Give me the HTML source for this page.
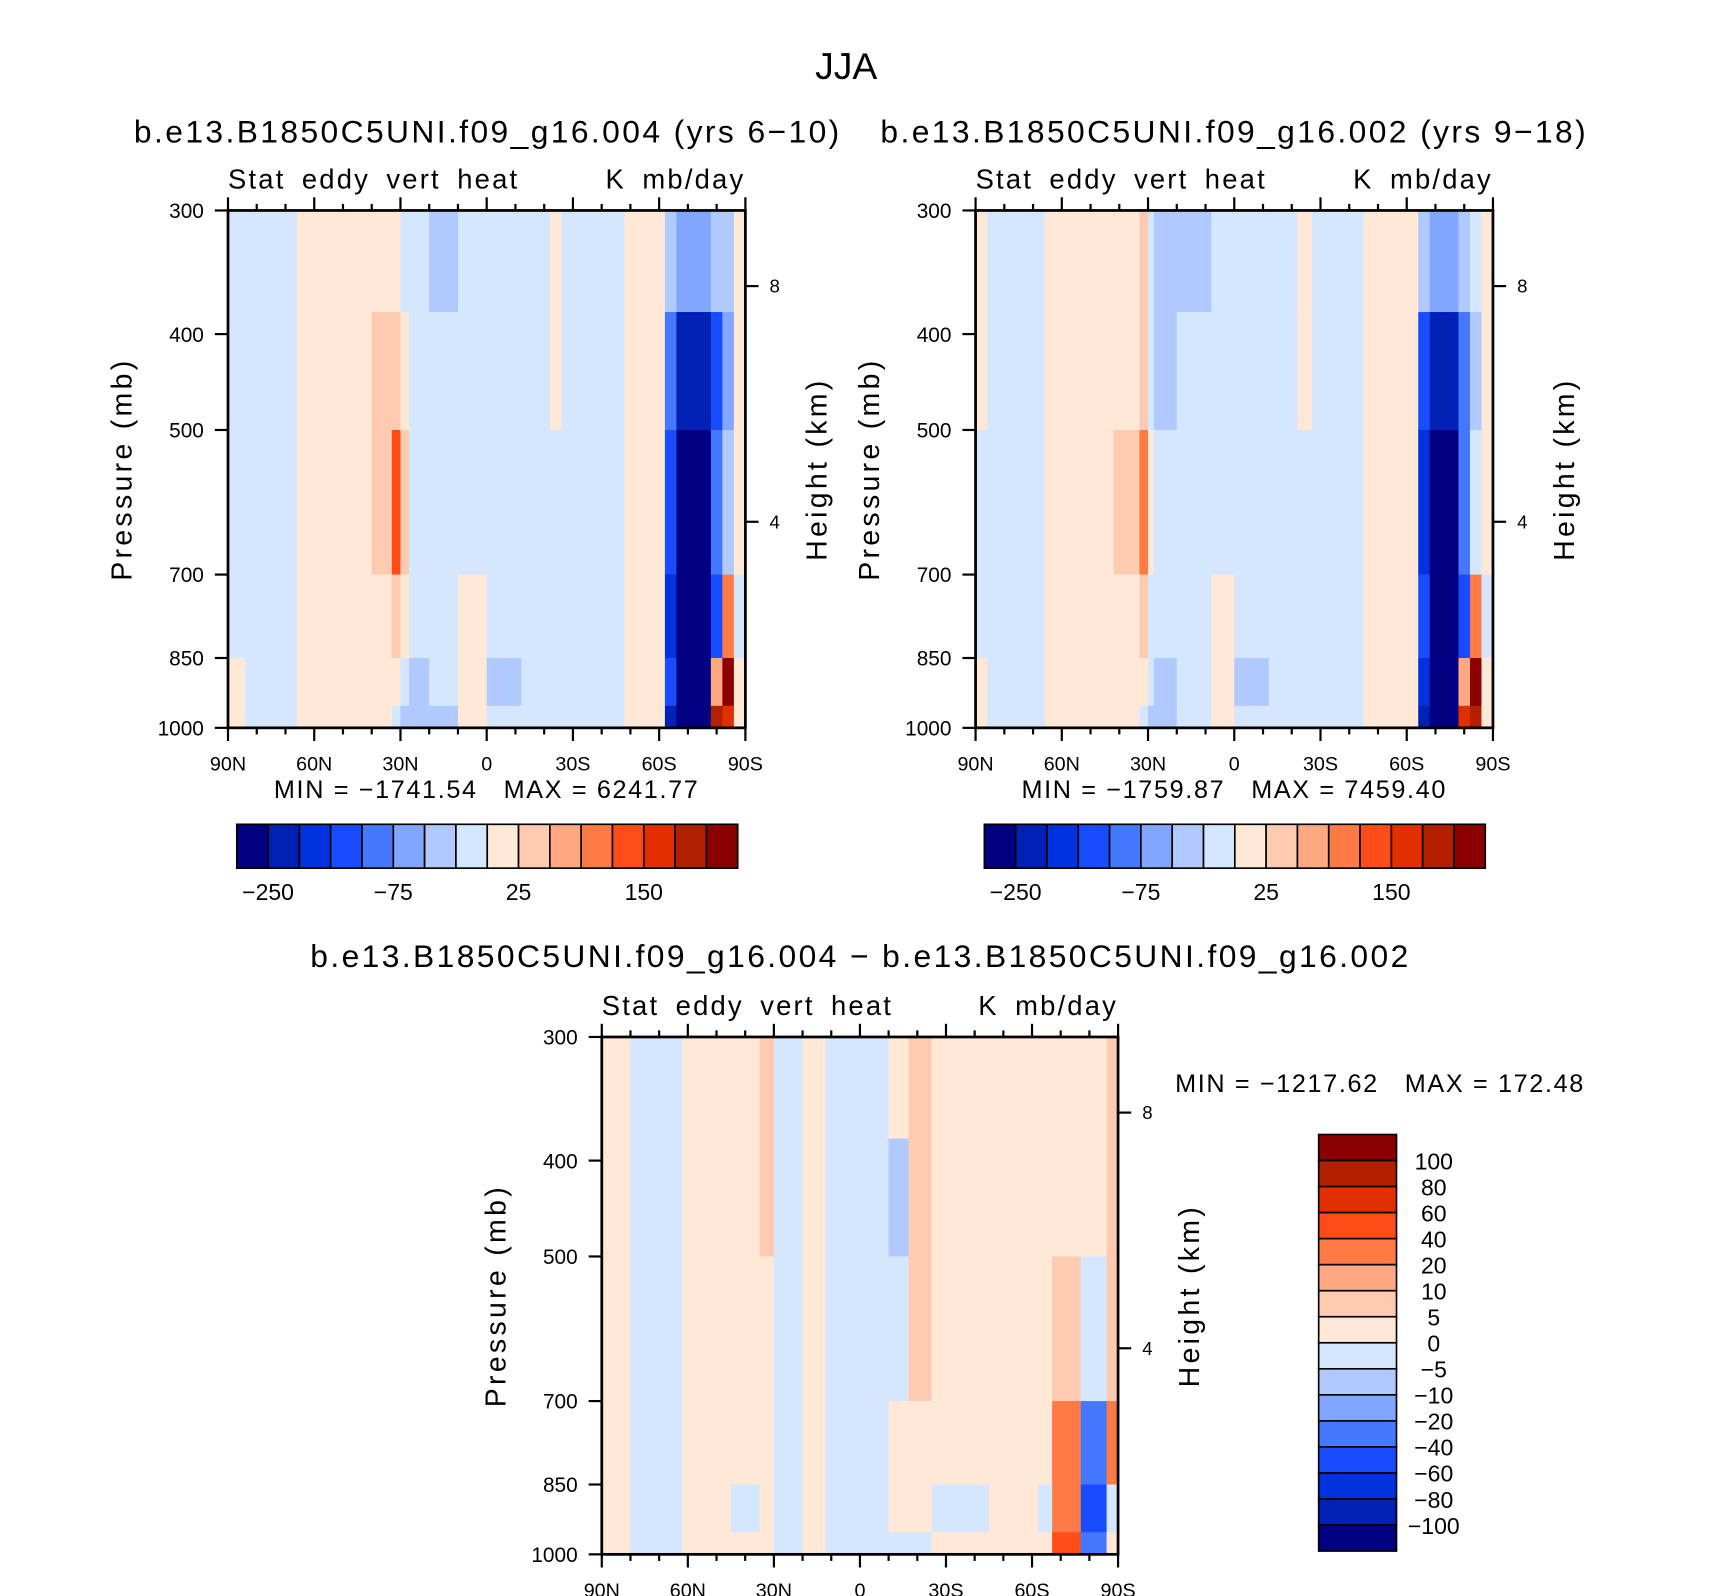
<!DOCTYPE html>
<html><head><meta charset="utf-8">
<style>
html,body{margin:0;padding:0;background:#fff;}
svg{display:block;font-family:"Liberation Sans",sans-serif;}
</style></head>
<body>
<svg id="fig" xmlns="http://www.w3.org/2000/svg" width="1710" height="1596" viewBox="0 0 1560 1456">
<rect x="0" y="0" width="1560" height="1456" fill="#fff"/>
<text x="772" y="72" font-size="34" text-anchor="middle">JJA</text>
<g id="root"></g>
</svg>
<script>
// ---------- data ----------
const colors = ["#000080","#0022b4","#0033dd","#1a4cff","#4577ff","#80a6ff","#b0c9ff","#d5e6ff","#ffe8d6","#ffcbb0","#ffa882","#ff7a45","#ff4d18","#e03000","#b22000","#8b0000"];
const levelsTop = [-250,-200,-150,-100,-75,-50,-25,0,25,50,75,100,150,200,250];
const levelsDiff = [-100,-80,-60,-40,-20,-10,-5,0,5,10,20,40,60,80,100];
const topTickLabels = ["-250","-75","25","150"];
const diffTickLabels = ["100","80","60","40","20","10","5","0","-5","-10","-20","-40","-60","-80","-100"];
const pressureEdges = [300,380,500,700,850,950,1000];
const pressureTicks = [300,400,500,700,850,1000];
const heightTicks = [8,4];
const latTicks = [90,60,30,0,-30,-60,-90];
const latTickLabels = ["90N","60N","30N","0","30S","60S","90S"];

// panel 1 bands: lat edges (north->south) and values per pressure layer (top->bottom)
const p1Edges = [90,84,66,40,33,30,27,20,10,0,-12,-22,-26,-48,-62,-66,-78,-82,-86,-90];
const p1Vals = [
 [-10,-10,-10,-10,10,10],[-10,-10,-10,-10,-10,-10],[10,10,10,10,10,10],[10,40,40,10,10,10],
 [10,40,120,40,10,-10],[-10,10,40,10,-10,-40],[-10,-10,-10,-10,-40,-40],[-40,-10,-10,-10,-10,-40],
 [-10,-10,-10,10,10,10],[-10,-10,-10,-10,-40,-10],[-10,-10,-10,-10,-10,-10],[10,10,-10,-10,-10,-10],
 [-10,-10,-10,-10,-10,-10],[10,10,10,10,10,10],[-40,-90,-120,-170,-120,-220],[-60,-220,-260,-260,-300,-300],
 [-40,-120,-90,-120,60,220],[-40,-60,-40,90,300,170],[10,10,10,-10,10,10]
];
const p2Edges = [90,86,66,42,33,30,28,20,8,0,-12,-22,-27,-45,-64,-68,-78,-82,-86,-90];
const p2Vals = [
 [10,10,-10,-10,10,10],[-10,-10,-10,-10,-10,-10],[10,10,10,10,10,10],[10,10,40,10,10,10],
 [40,40,90,40,10,-10],[-10,-10,10,-10,-10,-40],[-40,-40,-10,-10,-40,-40],[-40,-10,-10,-10,-10,-10],
 [-10,-10,-10,10,10,10],[-10,-10,-10,-10,-40,-10],[-10,-10,-10,-10,-10,-10],[10,10,-10,-10,-10,-10],
 [-10,-10,-10,-10,-10,-10],[10,10,10,10,10,10],[-40,-120,-170,-120,-170,-220],[-60,-220,-260,-260,-300,-300],
 [-40,-90,-90,-120,60,170],[-10,-40,-10,90,300,220],[10,10,10,-10,10,10]
];
const p3Edges = [90,80,62,45,35,30,20,12,0,-10,-17,-25,-45,-62,-67,-77,-86,-90];
const p3Vals = [
 [3,3,3,3,3,3],[-3,-3,-3,-3,-3,-3],[3,3,3,3,3,3],[3,3,3,3,-3,3],[7,7,3,3,3,3],
 [-3,-3,-3,-3,-3,-3],[3,3,3,3,3,3],[-3,-3,-3,-3,-3,-3],[-3,-3,-3,-3,-3,-3],
 [3,-7,-3,3,3,-3],[7,7,7,3,3,-3],[3,3,3,3,-3,3],[3,3,3,3,3,3],[3,3,3,3,-3,3],
 [3,3,7,30,30,50],[3,3,-3,-30,-60,-40],[7,7,7,30,-3,3]
];

// ---------- helpers ----------
const NS = "http://www.w3.org/2000/svg";
const root = document.getElementById("root");
function mk(tag, attrs, parent, text){
  const e = document.createElementNS(NS, tag);
  for (const k in attrs) e.setAttribute(k, attrs[k]);
  if (text !== undefined) e.textContent = text;
  (parent||root).appendChild(e);
  return e;
}
function colorFor(v, levels){
  let i = 0;
  while (i < levels.length && v >= levels[i]) i++;
  return colors[i];
}
function minus(s){ return s.replace(/-/g, "\u2212"); }

function drawPanel(px, py, W, H, edges, vals, levels, name){
  const g = mk("g", {});
  
  
  const xOf = lat => px + (90 - lat) / 180 * W;
  const yOf = p => py + H - Math.log(1000 / p) / Math.log(1000 / 300) * H;
  const yOfZ = z => py + 499 - 53.75 * z;
  for (let b = 0; b < edges.length - 1; b++){
    for (let l = 0; l < pressureEdges.length - 1; l++){
      const x0 = xOf(edges[b]), x1 = xOf(edges[b+1]);
      const y0 = yOf(pressureEdges[l]), y1 = yOf(pressureEdges[l+1]);
      const r = mk("rect", {x:x0, y:y0, width:x1-x0+0.6, height:y1-y0+0.6, fill:colorFor(vals[b][l], levels)}, g);
      
      
    }
  }
  const fr = mk("rect", {x:px, y:py, width:W, height:H, fill:"none", stroke:"#000", "stroke-width":2.5}, g);
  
  
  for (let lat = 90; lat >= -90; lat -= 10){
    const x = xOf(lat), major = lat % 30 === 0;
    const len = major ? 12 : 6;
    mk("line", {x1:x, y1:py+H, x2:x, y2:py+H+len, stroke:"#000", "stroke-width":2}, g);
    mk("line", {x1:x, y1:py, x2:x, y2:py-len, stroke:"#000", "stroke-width":2}, g);
  }
  latTicks.forEach((lat, i) => {
    const t = mk("text", {x:xOf(lat), y:py+H+39, "font-size":18, "text-anchor":"middle"}, g, latTickLabels[i]);
    
    
  });
  pressureTicks.forEach(p => {
    const y = yOf(p);
    mk("line", {x1:px-12, y1:y, x2:px, y2:y, stroke:"#000", "stroke-width":2}, g);
    const t = mk("text", {x:px-22, y:y+7, "font-size":19, "text-anchor":"end"}, g, String(p));
    
    
  });
  heightTicks.forEach(z => {
    const y = yOfZ(z);
    mk("line", {x1:px+W, y1:y, x2:px+W+12, y2:y, stroke:"#000", "stroke-width":2}, g);
    const t = mk("text", {x:px+W+22, y:y+6, "font-size":17}, g, String(z));
    
    
  });
  const yl = mk("text", {x:0, y:0, "font-size":26, "letter-spacing":3, "text-anchor":"middle", transform:`translate(${px-88},${py+H/2}) rotate(-90)`}, g, "Pressure (mb)");
  
  
  const hl = mk("text", {x:0, y:0, "font-size":26, "letter-spacing":3, "text-anchor":"middle", transform:`translate(${px+W+74},${py+H/2}) rotate(-90)`}, g, "Height (km)");
  
  
  const l1 = mk("text", {x:px, y:py-20, "font-size":25, "letter-spacing":2, "word-spacing":6}, g, "Stat eddy vert heat");
  
  
  const l2 = mk("text", {x:px+W, y:py-20, "font-size":25, "letter-spacing":2, "word-spacing":6, "text-anchor":"end"}, g, "K mb/day");
  
  
}

function hColorbar(x, y, w, h, name){
  const g = mk("g", {});
  
  
  const bw = w / colors.length;
  colors.forEach((c, i) => {
    const r = mk("rect", {x:x+i*bw, y:y, width:bw, height:h, fill:c, stroke:"#000", "stroke-width":1.5}, g);
    
    
  });
  topTickLabels.forEach((s, i) => {
    const t = mk("text", {x:x+(1+4*i)*bw, y:y+h+29, "font-size":21, "text-anchor":"middle"}, g, minus(s));
    
    
  });
}
function vColorbar(x, y, w, h, name){
  const g = mk("g", {});
  
  
  const bh = h / colors.length;
  colors.slice().reverse().forEach((c, i) => {
    const r = mk("rect", {x:x, y:y+i*bh, width:w, height:bh, fill:c, stroke:"#000", "stroke-width":1.5}, g);
    
    
  });
  diffTickLabels.forEach((s, i) => {
    const t = mk("text", {x:x+w+34, y:y+(i+1)*bh+8, "font-size":21, "text-anchor":"middle"}, g, minus(s));
    
    
  });
}
function label(x, y, s, size, anchor, name, ls){
  const t = mk("text", {x:x, y:y, "font-size":size, "text-anchor":anchor, "letter-spacing":ls, "xml:space":"preserve", style:"white-space:pre"}, root, minus(s));
  
  
}

// ---------- panels ----------
label(445, 130, "b.e13.B1850C5UNI.f09_g16.004 (yrs 6-10)", 29, "middle", "panel1-title", 2.2);
label(1126, 130, "b.e13.B1850C5UNI.f09_g16.002 (yrs 9-18)", 29, "middle", "panel2-title", 2.2);
drawPanel(208, 192, 472, 472, p1Edges, p1Vals, levelsTop, "panel1-plot");
drawPanel(890, 192, 472, 472, p2Edges, p2Vals, levelsTop, "panel2-plot");
label(444, 728, "MIN = -1741.54   MAX = 6241.77", 23, "middle", "panel1-minmax", 1.5);
label(1126, 728, "MIN = -1759.87   MAX = 7459.40", 23, "middle", "panel2-minmax", 1.5);
hColorbar(216, 752, 457, 40, "panel1-colorbar");
hColorbar(898, 752, 457, 40, "panel2-colorbar");

label(785, 882, "b.e13.B1850C5UNI.f09_g16.004 - b.e13.B1850C5UNI.f09_g16.002", 29, "middle", "panel3-title", 2.2);
drawPanel(549, 946, 471, 472, p3Edges, p3Vals, levelsDiff, "panel3-plot");
label(1072, 996, "MIN = -1217.62   MAX = 172.48", 23, "start", "panel3-minmax", 1.5);
vColorbar(1203, 1035, 71, 380, "panel3-colorbar");
</script>
</body></html>
